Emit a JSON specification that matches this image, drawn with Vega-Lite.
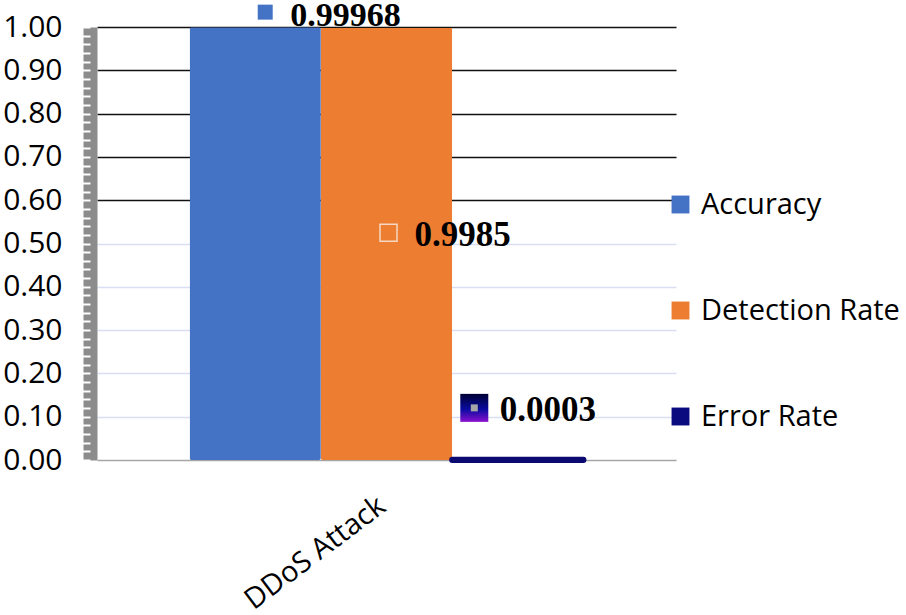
{
  "$schema": "https://vega.github.io/schema/vega-lite/v6.json",
  "width": 579,
  "height": 433,
  "autosize": {"type": "none"},
  "padding": {"left": 97, "top": 27, "right": 230, "bottom": 155},
  "background": "white",
  "config": {"view": {"stroke": null}, "font": "Open Sans"},
  "data": {"values": [
    {"category": "DDoS Attack", "series": "Accuracy", "value": 0.99968},
    {"category": "DDoS Attack", "series": "Detection Rate", "value": 0.9985},
    {"category": "DDoS Attack", "series": "Error Rate", "value": 0.0003}
  ]},
  "resolve": {"axis": {"y": "independent"}},
  "encoding": {
    "x": {
      "field": "category", "type": "nominal", "title": null,
      "scale": {"paddingInner": 0, "paddingOuter": 0.235},
      "axis": {
        "labelAngle": -37, "labelFontSize": 29, "labelFont": "Open Sans", "labelColor": "#000000",
        "ticks": false, "labelPadding": 31, "labelOffset": -13, "domainColor": "#a6a6a6", "domainWidth": 1.5
      }
    },
    "xOffset": {"field": "series", "type": "nominal", "scale": {"paddingInner": 0, "paddingOuter": 0}}
  },
  "layer": [
    {
      "mark": {"type": "bar", "cornerRadius": 2},
      "encoding": {
        "y": {
          "field": "value", "type": "quantitative", "title": null,
          "scale": {"domain": [0, 1], "nice": false},
          "axis": {
            "orient": "left",
            "tickCount": 50,
            "labelExpr": "round(datum.value*50) % 5 === 0 ? format(datum.value, '.2f') : ''",
            "labelFontSize": 30, "labelFont": "Open Sans", "labelColor": "#000000", "labelPadding": 20,
            "offset": 7, "domainColor": "#8c8c8c", "domainWidth": 14,
            "tickColor": "#ffffff", "tickSize": 8, "tickWidth": 2,
            "grid": true,
            "gridOpacity": {"condition": {"test": "round(datum.value*50) % 5 !== 0 || datum.value < 0.05", "value": 0}, "value": 1},
            "gridColor": {"condition": {"test": "datum.value > 0.55", "value": "#111111"}, "value": "#d9def3"},
            "gridWidth": {"condition": {"test": "datum.value > 0.55", "value": 1.6}, "value": 1.5}
          }
        },
        "color": {
          "field": "series", "type": "nominal",
          "scale": {"domain": ["Accuracy", "Detection Rate", "Error Rate"], "range": ["#4472C4", "#ED7D31", "#0b0b80"]},
          "legend": {
            "title": null, "orient": "none", "legendX": 569, "legendY": 163, "padding": 0,
            "symbolType": "square", "symbolSize": 320, "symbolStrokeWidth": 0, "symbolOpacity": 1,
            "labelFontSize": 29, "labelFont": "Open Sans", "labelColor": "#000000", "labelOffset": 6,
            "labelLimit": 0, "rowPadding": 76
          }
        },
        "stroke": {"condition": {"test": "datum.series === 'Error Rate'", "value": "#0a0a70"}, "value": null},
        "strokeWidth": {"condition": {"test": "datum.series === 'Error Rate'", "value": 6}, "value": 0}
      }
    },
    {
      "mark": {"type": "point", "opacity": 0},
      "encoding": {
        "y": {
          "field": "value", "type": "quantitative", "title": null,
          "axis": {
            "orient": "left", "offset": 7, "domain": false, "labels": false, "grid": false,
            "tickCount": 50, "tickColor": "#ffffff", "tickSize": 8, "tickWidth": 2
          }
        }
      }
    },
    {
      "transform": [{"filter": "datum.series === 'Accuracy'"}],
      "mark": {"type": "text", "align": "left", "baseline": "alphabetic", "dx": 35, "dy": -1,
               "font": "Liberation Serif", "fontWeight": "bold", "fontSize": 34, "color": "#000000"},
      "encoding": {
        "y": {"field": "value", "type": "quantitative", "title": null, "axis": null},
        "text": {"field": "value", "type": "nominal"}
      }
    },
    {
      "transform": [{"filter": "datum.series === 'Accuracy'"}],
      "mark": {"type": "point", "filled": true, "color": "#4472C4", "opacity": 1, "size": 10000,
               "shape": "M0.05,-0.45H0.35V-0.15H0.05Z"},
      "encoding": {
        "y": {"field": "value", "type": "quantitative", "title": null, "axis": null}
      }
    },
    {
      "transform": [{"filter": "datum.series === 'Detection Rate'"}, {"calculate": "datum.value / 2", "as": "mid"}],
      "mark": {"type": "text", "align": "left", "baseline": "alphabetic", "dx": 28, "dy": 2,
               "font": "Liberation Serif", "fontWeight": "bold", "fontSize": 35, "color": "#000000"},
      "encoding": {
        "y": {"field": "mid", "type": "quantitative", "title": null, "axis": null},
        "text": {"field": "value", "type": "nominal"}
      }
    },
    {
      "transform": [{"filter": "datum.series === 'Detection Rate'"}, {"calculate": "datum.value / 2", "as": "mid"}],
      "mark": {"type": "point", "filled": false, "stroke": "#f6d8c4", "strokeWidth": 1.5, "opacity": 1, "size": 10000,
               "shape": "M-0.13,-0.39H0.21V-0.05H-0.13Z"},
      "encoding": {
        "y": {"field": "mid", "type": "quantitative", "title": null, "axis": null}
      }
    },
    {
      "transform": [{"filter": "datum.series === 'Error Rate'"}],
      "mark": {"type": "text", "align": "left", "baseline": "alphabetic", "dx": -18, "dy": -39,
               "font": "Liberation Serif", "fontWeight": "bold", "fontSize": 35, "color": "#000000"},
      "encoding": {
        "y": {"field": "value", "type": "quantitative", "title": null, "axis": null},
        "text": {"field": "value", "type": "nominal"}
      }
    },
    {
      "transform": [{"filter": "datum.series === 'Error Rate'"}],
      "mark": {"type": "point", "filled": true, "opacity": 1, "size": 10000, "strokeWidth": 0,
               "fill": {"gradient": "linear", "x1": 0, "y1": 0, "x2": 0, "y2": 1,
                        "stops": [{"offset": 0, "color": "#000033"}, {"offset": 0.55, "color": "#0a0aa0"}, {"offset": 1, "color": "#8a10d0"}]},
               "shape": "M-1.15,-1.32H-0.59V-0.76H-1.15Z"},
      "encoding": {
        "y": {"field": "value", "type": "quantitative", "title": null, "axis": null}
      }
    },
    {
      "transform": [{"filter": "datum.series === 'Error Rate'"}],
      "mark": {"type": "point", "filled": true, "color": "#a6a6a6", "opacity": 1, "size": 10000,
               "shape": "M-0.94,-1.11H-0.80V-0.97H-0.94Z"},
      "encoding": {
        "y": {"field": "value", "type": "quantitative", "title": null, "axis": null}
      }
    }
  ]
}
